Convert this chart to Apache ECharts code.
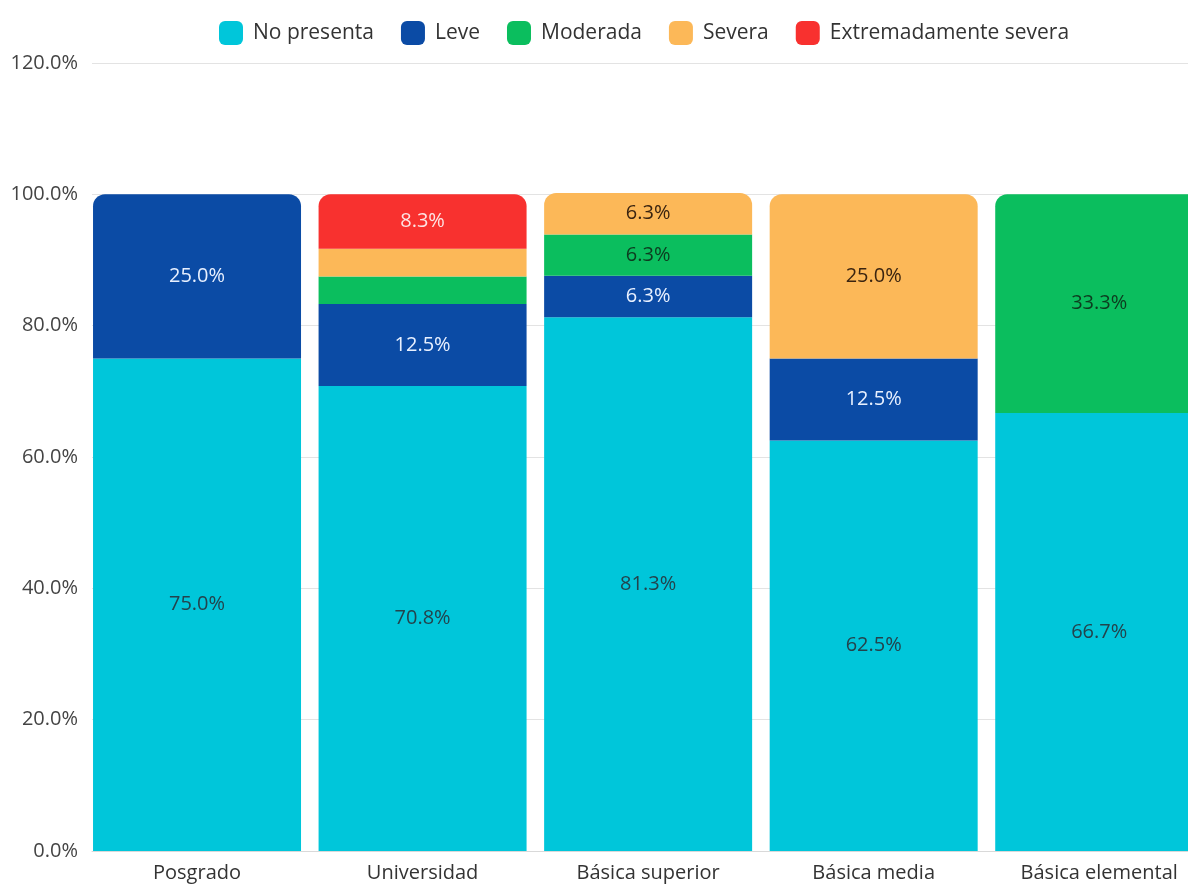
<!DOCTYPE html>
<html>
<head>
<meta charset="utf-8">
<script src="https://cdn.jsdelivr.net/npm/echarts@6/dist/echarts.min.js"></script>
<style>
html,body{margin:0;padding:0;background:#fff;overflow:hidden;width:1188px;height:884px;}
#chart{width:1212px;height:884px;}
</style>
</head>
<body>
<div id="chart"></div>
<script>
const categories = ['Posgrado', 'Universidad', 'Básica superior', 'Básica media', 'Básica elemental'];
const seriesNames = ['No presenta', 'Leve', 'Moderada', 'Severa', 'Extremadamente severa'];
const noPresenta = [75.0, 70.8, 81.3, 62.5, 66.7];
const leve = [25.0, 12.5, 6.3, 12.5, null];
const moderada = [null, 4.2, 6.3, null, 33.3];
const severa = [null, 4.2, 6.3, 25.0, null];
const extremadamente = [null, 8.3, null, null, null];
const yTicks = [0, 20, 40, 60, 80, 100, 120];

const seriesValues = [noPresenta, leve, moderada, severa, extremadamente];
const colors = ['#00C6DA', '#0B4BA5', '#0BBE5E', '#FCB858', '#F8312F'];
const labelColors = ['#23434c', '#e8f0ff', '#0d3b1f', '#3a2410', '#fde4e4'];

// find topmost series per category
const topIdx = categories.map((c, ci) => {
  let t = -1;
  seriesValues.forEach((arr, si) => { if (arr[ci] != null && arr[ci] > 0) t = si; });
  return t;
});

const series = seriesValues.map((arr, si) => ({
  name: seriesNames[si],
  type: 'bar',
  stack: 'total',
  xAxisIndex: 1,
  yAxisIndex: 1,
  barWidth: 208,
  itemStyle: { color: colors[si] },
  label: {
    show: true,
    position: 'inside',
    color: labelColors[si],
    fontFamily: 'Open Sans',
    fontSize: 20,
    formatter: p => (p.value >= 5 ? p.value.toFixed(1) + '%' : '')
  },
  data: arr.map((v, ci) => ({
    value: v,
    itemStyle: topIdx[ci] === si ? { borderRadius: [12, 12, 0, 0] } : {}
  }))
}));

const chart = echarts.init(document.getElementById('chart'));
chart.setOption({
  animation: false,
  color: colors,
  legend: {
    top: 16,
    left: 214,
    itemWidth: 24,
    itemHeight: 24,
    itemGap: 27,
    icon: 'roundRect',
    textStyle: { fontFamily: 'Open Sans', fontSize: 21, color: '#333', padding: [0, 0, 0, 5] },
    data: seriesNames
  },
  grid: [
    { left: 92, right: 0, top: 63, bottom: 33, containLabel: false },
    { left: 84.25, right: 0, top: 63, bottom: 33, containLabel: false }
  ],
  xAxis: [
    {
      gridIndex: 0, type: 'category', data: categories,
      axisLine: { show: true, lineStyle: { color: '#d9d9d9' } },
      axisTick: { show: false }, axisLabel: { show: false }
    },
    {
      gridIndex: 1, type: 'category', data: categories,
      axisLine: { show: false }, axisTick: { show: false },
      axisLabel: { fontFamily: 'Open Sans', fontSize: 20, color: '#333', margin: 12 }
    }
  ],
  yAxis: [
    {
      gridIndex: 0, type: 'value', min: yTicks[0], max: yTicks[yTicks.length - 1], interval: 20,
      axisLine: { show: false }, axisTick: { show: false },
      splitLine: { lineStyle: { color: '#e3e3e3' } },
      axisLabel: { fontFamily: 'Open Sans', fontSize: 20, color: '#444', margin: 14,
        formatter: v => v.toFixed(1) + '%' }
    },
    {
      gridIndex: 1, type: 'value', min: yTicks[0], max: yTicks[yTicks.length - 1], interval: 20,
      show: false, splitLine: { show: false }
    }
  ],
  series: series
});
</script>
</body>
</html>
